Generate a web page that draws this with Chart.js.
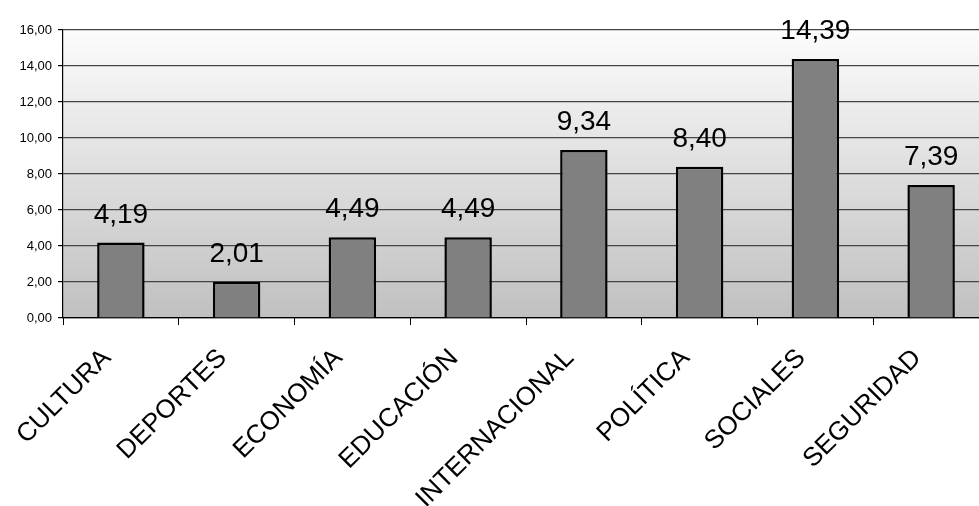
<!DOCTYPE html>
<html>
<head>
<meta charset="utf-8">
<script src="https://cdn.jsdelivr.net/npm/chart.js@4/dist/chart.umd.min.js"></script>
<style>
  html, body { margin: 0; padding: 0; background: #fff; overflow: hidden; }
  #wrap { width: 1000px; height: 506px; }
</style>
</head>
<body>
<div id="wrap"><canvas id="barChart"></canvas></div>
<script>
// data
const categories = ['CULTURA', 'DEPORTES', 'ECONOMÍA', 'EDUCACIÓN', 'INTERNACIONAL', 'POLÍTICA', 'SOCIALES', 'SEGURIDAD'];
const values = [4.19, 2.01, 4.49, 4.49, 9.34, 8.40, 14.39, 7.39];
const yTicks = [0, 2, 4, 6, 8, 10, 12, 14, 16];

const fmt = v => v.toFixed(2).replace('.', ',');

// gray gradient behind the plot
const plotBackground = {
  id: 'plotBackground',
  beforeDraw(chart) {
    const { ctx, chartArea: a } = chart;
    const g = ctx.createLinearGradient(0, a.top, 0, a.bottom);
    g.addColorStop(0, '#fcfcfc');
    g.addColorStop(1, '#c0c0c0');
    ctx.save();
    ctx.fillStyle = g;
    ctx.fillRect(a.left, a.top, a.right - a.left, a.bottom - a.top);
    ctx.restore();
  }
};

// value labels above the bars
const valueLabels = {
  id: 'valueLabels',
  afterDatasetsDraw(chart) {
    const { ctx } = chart;
    const meta = chart.getDatasetMeta(0);
    ctx.save();
    ctx.font = '28px "Liberation Sans", Arial, sans-serif';
    ctx.fillStyle = '#000';
    ctx.textAlign = 'center';
    ctx.textBaseline = 'alphabetic';
    meta.data.forEach((bar, i) => {
      ctx.fillText(fmt(values[i]), bar.x, bar.y - 20);
    });
    ctx.restore();
  }
};

const ctxBar = document.getElementById('barChart').getContext('2d');
new Chart(ctxBar, {
  type: 'bar',
  data: {
    labels: categories,
    datasets: [{
      data: values,
      backgroundColor: '#808080',
      borderColor: '#000',
      borderWidth: 2.5,
      categoryPercentage: 1,
      barPercentage: 0.41
    }]
  },
  options: {
    responsive: true,
    maintainAspectRatio: false,
    animation: false,
    layout: { padding: { top: 30, right: 11, left: 0, bottom: 0 } },
    plugins: { legend: { display: false }, tooltip: { enabled: false } },
    scales: {
      y: {
        min: 0,
        max: 16,
        afterBuildTicks: s => { s.ticks = yTicks.map(v => ({ value: v })); },
        afterFit: s => { s.width = 63; },
        ticks: {
          color: '#000',
          padding: 6,
          font: { family: '"Liberation Sans", Arial, sans-serif', size: 13 },
          callback: v => fmt(v)
        },
        grid: { color: '#444', lineWidth: 1.2, tickLength: 5, tickColor: '#000' },
        border: { color: '#000', width: 1.2 }
      },
      x: {
        afterFit: s => { s.height = 188; },
        ticks: {
          color: '#000',
          minRotation: 45,
          maxRotation: 45,
          padding: 18,
          labelOffset: -14,
          autoSkip: false,
          font: { family: '"Liberation Sans", Arial, sans-serif', size: 26 }
        },
        grid: { drawOnChartArea: false, offset: true, tickLength: 7, color: '#000' },
        border: { color: '#000', width: 1.2 }
      }
    }
  },
  plugins: [plotBackground, valueLabels]
});
</script>
</body>
</html>
